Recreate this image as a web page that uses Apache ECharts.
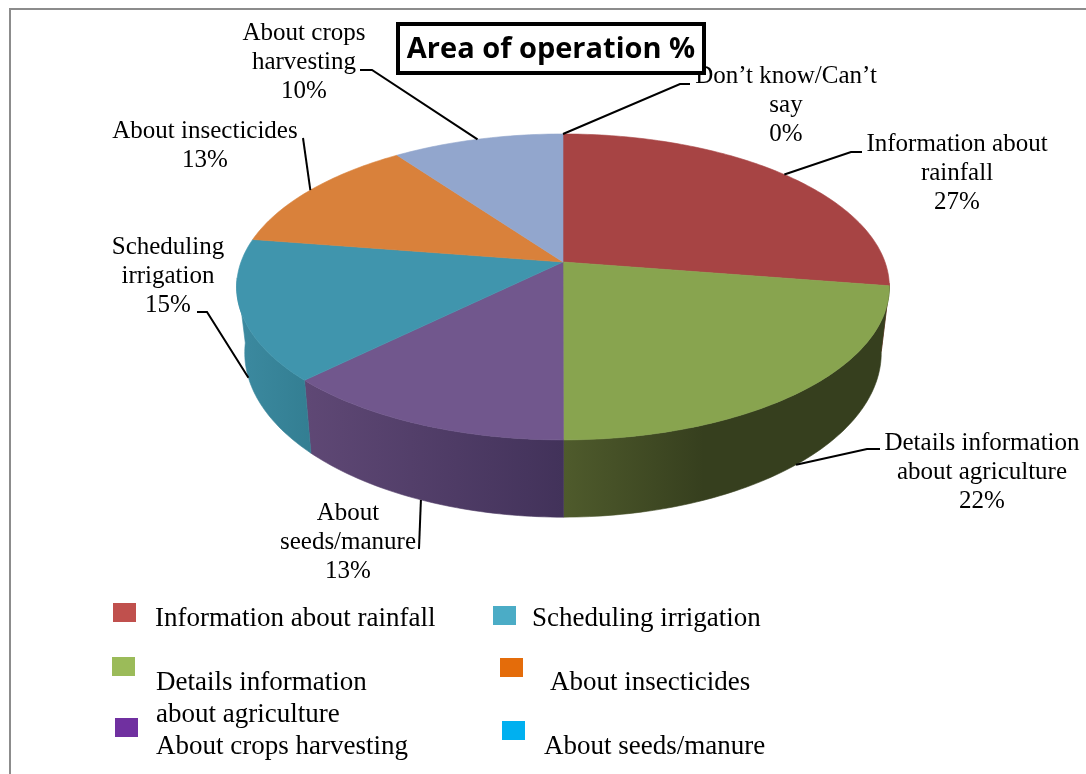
<!DOCTYPE html>
<html lang="en">
<head>
    <meta charset="UTF-8">
    <title>Area of operation %</title>
    <script src="https://cdn.jsdelivr.net/npm/echarts@6/dist/echarts.min.js"></script>
    <style>
        * { margin: 0; padding: 0; box-sizing: border-box; }
        html, body { width: 1086px; height: 774px; background: #fff; overflow: hidden; }
        #chart { width: 1086px; height: 774px; }
    </style>
</head>
<body>
    <div id="chart"></div>
    <script>
        // slice values, they round to the printed percentages
        const sliceNames = [
            'Information about\nrainfall',
            'Details information\nabout agriculture',
            'About\nseeds/manure',
            'Scheduling\nirrigation',
            'About insecticides',
            'About crops\nharvesting',
            'Don\u2019t know/Can\u2019t\nsay'
        ];
        const sliceValues = [27.49, 22.49, 12.6, 14.9, 12.6, 9.92, 0];

        const legendNames = [
            'Information about rainfall',
            'Scheduling irrigation',
            'Details information',
            'about agriculture',
            'About crops harvesting',
            'About insecticides',
            'About seeds/manure'
        ];

        // styles and layout, same order as the slices
        const topColors = ['#a74444', '#88a44f', '#71578d', '#4095ad', '#d9813b', '#92a6cd', '#92a6cd'];
        const wallColors = [
            ['#a74444', '#a74444'],
            ['#4f5b2c', '#363f1e'],
            ['#5f4875', '#42325a'],
            ['#3c8aa0', '#337e92'],
            ['#d9813b', '#d9813b'],
            ['#92a6cd', '#92a6cd'],
            ['#92a6cd', '#92a6cd']
        ];
        const labelBoxes = [
            { x: 957, y: 173, elbow: [[851, 152], [862, 152]] },
            { x: 982, y: 472, elbow: [[867, 449], [880, 449]], onBottom: true },
            { x: 348, y: 542, elbow: [[419, 549]], onBottom: true },
            { x: 168, y: 276, elbow: [[207, 312], [197, 312]], onBottom: true },
            { x: 205, y: 146, elbow: [[303, 138]] },
            { x: 304, y: 62, elbow: [[372, 70], [360, 70]] },
            { x: 786, y: 105, elbow: [[680, 84], [690, 84]] }
        ];
        const legendBoxes = [
            { x: 113, y: 603, color: '#c0504d' },
            { x: 493, y: 606, color: '#4bacc6' },
            { x: 112, y: 657, color: '#9bbb59' },
            { x: 500, y: 658, color: '#e46c0a' },
            { x: 115, y: 718, color: '#7030a0' },
            { x: 502, y: 721, color: '#00b0f0' }
        ];
        const legendTextPos = [[155, 619], [532, 619], [156, 683], [156, 715], [156, 747], [550, 683], [544, 747]];

        // perspective pie: the rim is a circle seen from above and in front
        const centerX = 563;
        const topRim = { y: 262, a: 322, b: 148.9 };
        const bottomRim = { y: 326, a: 314, b: 160 };
        const tilt = 0.163;
        const wallFrom = 98;
        const wallTo = 264;
        const serif = '"Liberation Serif", "Times New Roman", serif';

        function rimPoint(rim, deg) {
            const r = deg * Math.PI / 180;
            const w = 1 + tilt * Math.cos(r);
            return [centerX + rim.a * Math.sin(r) / w, rim.y - rim.b * Math.cos(r) / w];
        }

        function sliceAngles(i) {
            const total = sliceValues.reduce((a, b) => a + b, 0);
            const before = sliceValues.slice(0, i).reduce((a, b) => a + b, 0);
            return [before / total * 360, (before + sliceValues[i]) / total * 360];
        }

        function arcPoints(rim, from, to) {
            const pts = [];
            const steps = Math.max(1, Math.ceil(Math.abs(to - from)));
            for (let k = 0; k <= steps; k++) {
                pts.push(rimPoint(rim, from + (to - from) * k / steps));
            }
            return pts;
        }

        function renderWall(params, api) {
            const ang = sliceAngles(params.dataIndex);
            const from = Math.max(ang[0], wallFrom);
            const to = Math.min(ang[1], wallTo);
            if (to <= from) return null;
            const pts = arcPoints(topRim, from, to).concat(arcPoints(bottomRim, to, from));
            const xs = pts.map(p => p[0]);
            const c = wallColors[params.dataIndex];
            // right side of the pie goes dark toward the outside, left side lightens
            const fill = new echarts.graphic.LinearGradient(
                params.dataIndex === 1 ? Math.min(...xs) : Math.max(...xs), 0,
                params.dataIndex === 1 ? Math.min(...xs) + 140 : Math.min(...xs), 0,
                [{ offset: 0, color: params.dataIndex === 1 ? c[0] : c[1] },
                 { offset: 1, color: params.dataIndex === 1 ? c[1] : c[0] }],
                true
            );
            return {
                type: 'polygon',
                shape: { points: pts },
                style: { fill: fill, stroke: fill, lineWidth: 0.6 }
            };
        }

        function renderTop(params, api) {
            const ang = sliceAngles(params.dataIndex);
            if (ang[1] <= ang[0]) return null;
            const color = topColors[params.dataIndex];
            return {
                type: 'polygon',
                shape: { points: [[centerX, topRim.y]].concat(arcPoints(topRim, ang[0], ang[1])) },
                style: { fill: color, stroke: color, lineWidth: 0.6 }
            };
        }

        function renderLabel(params, api) {
            const i = params.dataIndex;
            const ang = sliceAngles(i);
            const box = labelBoxes[i];
            const start = rimPoint(box.onBottom ? bottomRim : topRim, (ang[0] + ang[1]) / 2);
            return {
                type: 'group',
                children: [
                    {
                        type: 'polyline',
                        shape: { points: [start].concat(box.elbow) },
                        style: { stroke: '#000', lineWidth: 2, fill: null }
                    },
                    {
                        type: 'text',
                        style: {
                            text: sliceNames[i] + '\n' + Math.round(api.value(0)) + '%',
                            x: box.x,
                            y: box.y,
                            align: 'center',
                            verticalAlign: 'middle',
                            font: '25px ' + serif,
                            lineHeight: 29,
                            fill: '#000'
                        }
                    }
                ]
            };
        }

        const legendGraphics = legendBoxes.map(b => ({
            type: 'rect',
            shape: { x: b.x, y: b.y, width: 23, height: 19 },
            style: { fill: b.color }
        })).concat(legendNames.map((name, i) => ({
            type: 'text',
            style: {
                text: name,
                x: legendTextPos[i][0],
                y: legendTextPos[i][1],
                verticalAlign: 'middle',
                font: '27px ' + serif,
                fill: '#000'
            }
        })));

        const chart = echarts.init(document.getElementById('chart'));
        chart.setOption({
            animation: false,
            backgroundColor: '#fff',
            graphic: [
                // frame of the original figure, open at right and bottom
                { type: 'polyline', shape: { points: [[10, 774], [10, 9], [1086, 9]] }, style: { stroke: '#8c8c8c', lineWidth: 2, fill: null } },
                ...legendGraphics,
                { type: 'rect', z: 20, shape: { x: 398, y: 24, width: 306, height: 49 }, style: { fill: '#fff', stroke: '#000', lineWidth: 4 } },
                {
                    type: 'text',
                    z: 21,
                    style: {
                        text: 'Area of operation %',
                        x: 551,
                        y: 50,
                        align: 'center',
                        verticalAlign: 'middle',
                        font: 'bold 29px "Open Sans", sans-serif',
                        fill: '#000'
                    }
                }
            ],
            series: [
                { type: 'custom', coordinateSystem: 'none', z: 1, silent: true, data: sliceValues, renderItem: renderWall },
                { type: 'custom', coordinateSystem: 'none', z: 2, silent: true, data: sliceValues, renderItem: renderTop },
                { type: 'custom', coordinateSystem: 'none', z: 3, silent: true, data: sliceValues, renderItem: renderLabel }
            ]
        });
    </script>
</body>
</html>
